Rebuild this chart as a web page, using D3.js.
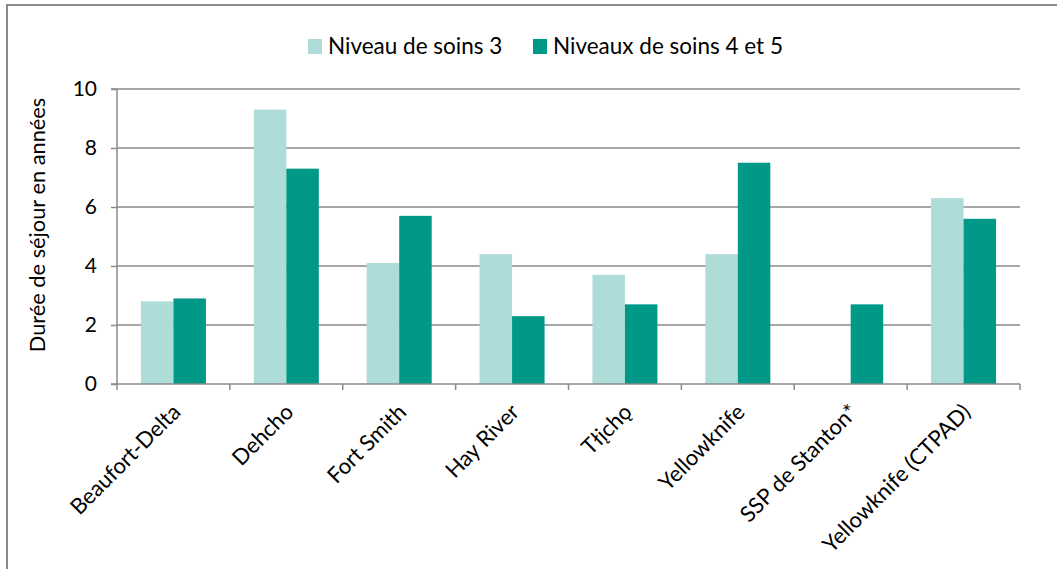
<!DOCTYPE html>
<html><head><meta charset="utf-8">
<script src="https://cdn.jsdelivr.net/npm/d3@7"></script>
<style>
html,body{margin:0;padding:0;background:#fff;}
svg{display:block;font-family:Lato, "Open Sans", sans-serif;}
</style></head>
<body>
<svg id="c" width="1057" height="569"></svg>
<script>
const categories = ["Beaufort-Delta","Dehcho","Fort Smith","Hay River","Tłįchǫ","Yellowknife","SSP de Stanton*","Yellowknife (CTPAD)"];
const seriesNames = ["Niveau de soins 3","Niveaux de soins 4 et 5"];
const niveau3 = [2.8, 9.3, 4.1, 4.4, 3.7, 4.4, null, 6.3];
const niveau45 = [2.9, 7.3, 5.7, 2.3, 2.7, 7.5, 2.7, 5.6];
const yTicks = [0, 2, 4, 6, 8, 10];
const colors = ["#aedcd8", "#009887"];
const yTitle = "Durée de séjour en années";

const svg = d3.select("#c");
const W = 1057, H = 569;
const pL = 117, pR = 1020, pT = 89, pB = 384;
const grid = "#8a8a8a";

// outer border
svg.append("rect").attr("x",7).attr("y",5).attr("width",W+10).attr("height",H+10)
  .attr("fill","none").attr("stroke",grid).attr("stroke-width",2);

const y = d3.scaleLinear().domain([0,10]).range([pB, pT]);
const x0 = d3.scaleBand().domain(categories).range([pL,pR]).paddingInner(0.424).paddingOuter(0.212);
const x1 = d3.scaleBand().domain(seriesNames).range([0, x0.bandwidth()]);

// gridlines
svg.append("g").selectAll("line").data(yTicks.filter(d=>d>0)).join("line")
  .attr("x1",pL).attr("x2",pR).attr("y1",d=>y(d)).attr("y2",d=>y(d))
  .attr("stroke",grid).attr("stroke-width",1.5);

// bars
const rows = categories.map((c,i)=>({c, vals:[niveau3[i], niveau45[i]]}));
const g = svg.append("g");
rows.forEach(r=>{
  r.vals.forEach((v,j)=>{
    if(v==null) return;
    g.append("rect")
      .attr("x", x0(r.c)+x1(seriesNames[j]))
      .attr("y", y(v))
      .attr("width", x1.bandwidth())
      .attr("height", y(0)-y(v))
      .attr("fill", colors[j]);
  });
});

// y axis
const yAxis = d3.axisLeft(y).tickValues(yTicks).tickSize(6).tickPadding(14).tickFormat(d3.format("d"));
const ya = svg.append("g").attr("transform",`translate(${pL},0)`).call(yAxis);
ya.select(".domain").attr("stroke",grid).attr("stroke-width",1.5).attr("d",`M-6,${pT}H0V${pB}H-6`);
ya.selectAll(".tick line").attr("stroke",grid).attr("stroke-width",1.5);
ya.selectAll(".tick text").attr("fill","#000").style("font-size","21px").style("font-family","Lato, sans-serif");

// x axis
const xa = svg.append("g").attr("transform",`translate(0,${pB})`).call(d3.axisBottom(x0).tickSize(0).tickFormat(""));
xa.select(".domain").attr("stroke",grid).attr("stroke-width",1.5).attr("d",`M${pL},0H${pR}`);
const step = x0.step();
const bounds = d3.range(categories.length+1).map(i=>pL + i*step);
xa.append("g").selectAll("line").data(bounds).join("line")
  .attr("x1",d=>d).attr("x2",d=>d).attr("y1",0).attr("y2",6)
  .attr("stroke",grid).attr("stroke-width",1.5);

// x labels
svg.append("g").selectAll("text").data(categories).join("text")
  .attr("transform", d=>`translate(${x0(d)+x0.bandwidth()/2+3},${pB+24}) rotate(-45)`)
  .attr("text-anchor","end")
  .attr("dy","0.35em")
  .style("font-size","22px")
  .attr("fill","#000")
  .text(d=>d);

// y title
svg.append("text")
  .attr("transform",`translate(45,225) rotate(-90)`)
  .attr("text-anchor","middle")
  .style("font-size","21.8px")
  .attr("fill","#000")
  .text(yTitle);

// legend
const legX = [308, 533];
const leg = svg.append("g");
seriesNames.forEach((s,i)=>{
  leg.append("rect").attr("x",legX[i]).attr("y",39).attr("width",14).attr("height",15).attr("fill",colors[i]);
  leg.append("text").attr("x",legX[i]+20).attr("y",54).style("font-size","22.5px").attr("fill","#000").text(s);
});
</script>
</body></html>
